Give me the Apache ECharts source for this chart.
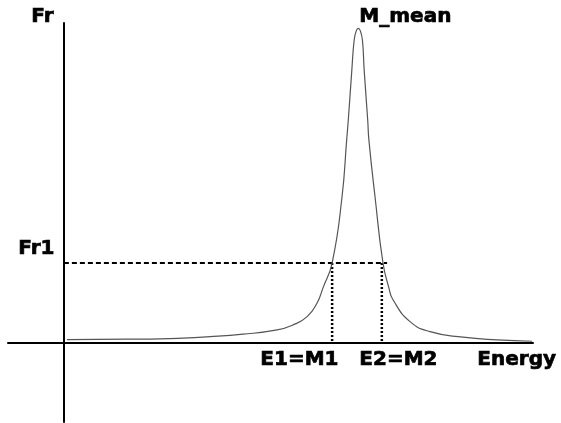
<!DOCTYPE html>
<html>
<head>
<meta charset="utf-8">
<script src="https://cdn.jsdelivr.net/npm/echarts@6/dist/echarts.min.js"></script>
<style>
html,body{margin:0;padding:0;background:#fff;}
#c{width:561px;height:423px;}
</style>
</head>
<body>
<div id="c"></div>
<script>
// Energy values (arbitrary units) and resonance strength Fr
const energy = [0.105, 2.145, 3.27, 4.97, 6.09, 7.25, 7.79, 8.27, 8.61, 8.81, 9.12, 9.456, 9.615, 9.67, 9.79, 9.87, 9.94, 10.01, 10.08, 10.15, 10.21, 10.33, 10.37, 10.58, 10.85, 11.05, 11.19, 11.77, 12.45, 13.57, 14.72, 15.92];
const fr =     [0.92, 1.05, 1.15, 1.88, 2.64, 4.01, 5.60, 8.24, 12.6, 17.4, 25.3, 46.3, 64.5, 70.8, 86.7, 96.3, 99.2, 100, 99.2, 96.3, 86.7, 70.8, 64.5, 46.3, 25.3, 17.4, 13.6, 6.65, 3.47, 1.69, 0.83, 0.41];
const fr1 = 25.3;      // Fr1 level
const e1 = 9.12;       // E1 = M1
const e2 = 10.81;      // E2 = M2
const fr1LineEnd = 10.99;
const labels = {fr: 'Fr', mean: 'M_mean', fr1: 'Fr1', e1: 'E1=M1', e2: 'E2=M2', energy: 'Energy'};

const chart = echarts.init(document.getElementById('c'));
const font = 'bold 20px "DejaVu Sans"';
function txt(text, x, y) {
  return {type: 'text', left: x, top: y - 11,
    style: {text: text, font: font, fill: '#000', stroke: '#000', lineWidth: 0.7}};
}
const curve = energy.map((e, i) => [e, fr[i]]);
chart.setOption({
  animation: false,
  backgroundColor: '#fff',
  grid: {left: 8, right: 28, top: 23, bottom: 1},
  xAxis: {type: 'value', min: -1.9, max: 15.95,
    axisLine: {onZero: true, lineStyle: {color: '#000', width: 2}},
    axisTick: {show: false}, axisLabel: {show: false}, splitLine: {show: false}},
  yAxis: {type: 'value', min: -25.3, max: 101.7,
    axisLine: {show: true, onZero: true, lineStyle: {color: '#000', width: 2}},
    axisTick: {show: false}, axisLabel: {show: false}, splitLine: {show: false}},
  series: [
    {type: 'line', data: curve, symbol: 'none', smooth: 0.5,
      lineStyle: {color: '#555', width: 1.2}, z: 3},
    {type: 'line', data: [[0, fr1], [fr1LineEnd, fr1]], symbol: 'none',
      lineStyle: {color: '#000', width: 2, type: [5, 3]}, z: 2},
    {type: 'line', data: [[e1, fr1], [e1, 0]], symbol: 'none',
      lineStyle: {color: '#000', width: 2.5, type: [2, 2]}, z: 2},
    {type: 'line', data: [[e2, fr1], [e2, 0]], symbol: 'none',
      lineStyle: {color: '#000', width: 2.5, type: [2, 2]}, z: 2}
  ],
  graphic: [
    txt(labels.fr, 31, 17.5),
    txt(labels.mean, 359, 17.5),
    txt(labels.fr1, 18, 249.5),
    txt(labels.e1, 260, 360.5),
    txt(labels.e2, 359, 360.5),
    txt(labels.energy, 477, 360.5)
  ]
});
</script>
</body>
</html>
